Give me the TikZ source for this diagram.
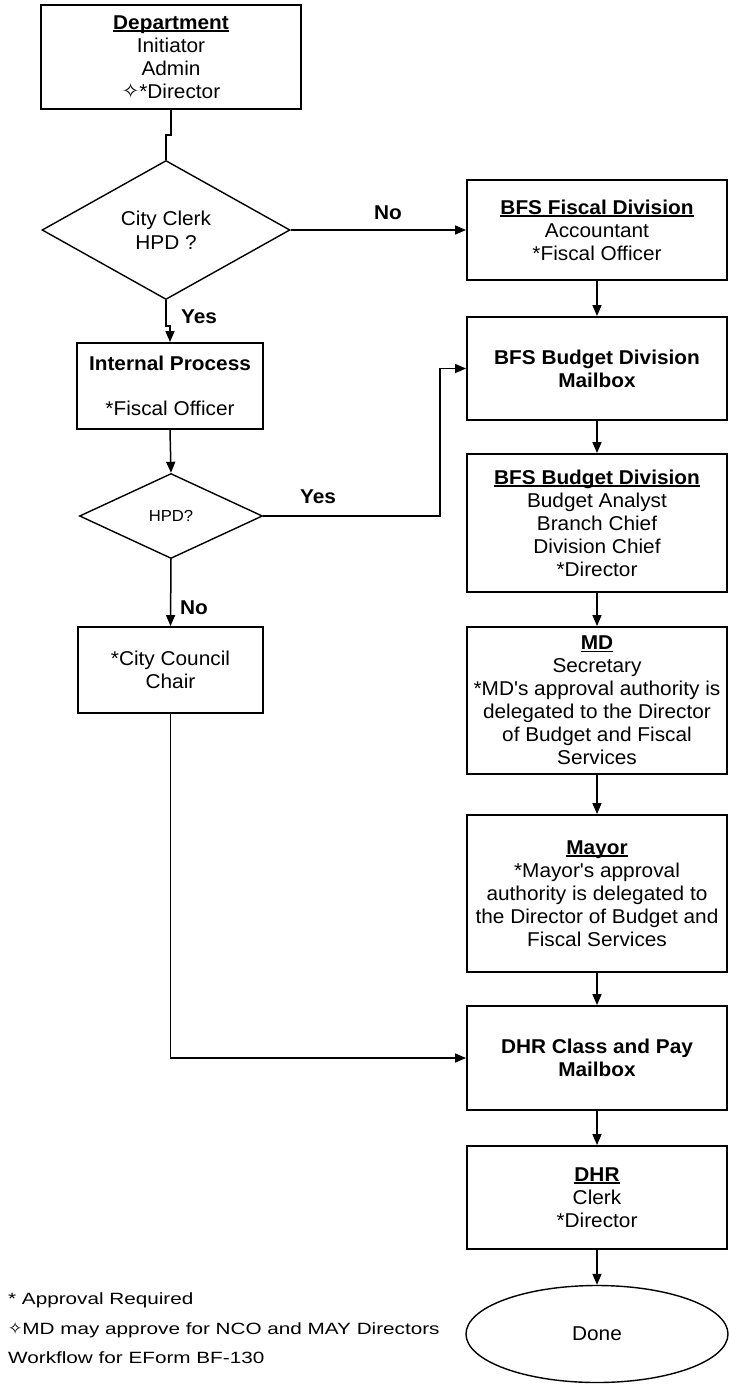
\documentclass[tikz,border=0pt]{standalone}
\usepackage{fontspec}
\setmainfont{Liberation Sans}[FakeStretch=1.04, Ligatures=TeXOff]
\newfontfamily\symfont{DejaVu Sans}
\newfontfamily\notefont{Liberation Sans}[FakeStretch=1.27, Ligatures=TeXOff]
\usetikzlibrary{shapes.geometric,arrows.meta}

% bold heading with a rule drawn just below the baseline
\newcommand\hdline[1]{{\setbox0\hbox{\bfseries #1}\rlap{\rule[-2.6pt]{\wd0}{1.6pt}}\box0}}
% outlined four-point star used as a footnote mark
\newcommand\starmark[1]{{\symfont\fontsize{#1}{#1}\selectfont\smash{\char"2727}}}

\tikzset{
  stepbox/.style={draw, line width=1.9pt, inner sep=0pt, align=center,
    font=\fontsize{20}{23}\selectfont},
  decision/.style={draw, diamond, line width=1.4pt, inner sep=0pt, align=center},
  arr/.style={line width=1.5pt, -{Triangle[length=11pt,width=9pt]}},
  link/.style={line width=1.5pt},
  lbl/.style={font=\fontsize{20}{23}\selectfont\bfseries},
  note/.style={anchor=base west, inner sep=0pt, font=\notefont\fontsize{16.3}{20}\selectfont},
}

\begin{document}
\begin{tikzpicture}[x=1pt,y=-1pt]
\useasboundingbox (0,0) rectangle (729,1384);

% left column
\node[stepbox, minimum width=260pt, minimum height=104pt] (dept) at (171,57)
  {\hdline{Department}\\Initiator\\Admin\\\starmark{21}*Director};
\node[decision, minimum width=248pt, minimum height=139pt,
  font=\fontsize{20}{24}\selectfont] (d1) at (166,230) {City Clerk\\HPD ?};
\node[stepbox, minimum width=186pt, minimum height=86pt] (internal) at (170,386)
  {\textbf{Internal Process}\\[22pt]*Fiscal Officer};
\node[decision, minimum width=183pt, minimum height=85pt,
  font=\fontsize{16}{19}\selectfont] (d2) at (171,516) {HPD?};
\node[stepbox, minimum width=185pt, minimum height=86pt] (council) at (170.5,670)
  {*City Council\\Chair};

% right column
\node[stepbox, minimum width=260pt, minimum height=100pt] (fiscal) at (597,230)
  {\hdline{BFS Fiscal Division}\\Accountant\\*Fiscal Officer};
\node[stepbox, minimum width=260pt, minimum height=103pt] (mailbox) at (597,368.5)
  {\textbf{BFS Budget Division}\\\textbf{Mailbox}};
\node[stepbox, minimum width=260pt, minimum height=138pt] (budget) at (597,523)
  {\hdline{BFS Budget Division}\\Budget Analyst\\Branch Chief\\Division Chief\\*Director};
\node[stepbox, minimum width=260pt, minimum height=147pt] (md) at (597,700.5)
  {\hdline{MD}\\Secretary\\*MD's approval authority is\\delegated to the Director\\of Budget and Fiscal\\Services};
\node[stepbox, minimum width=260pt, minimum height=157pt] (mayor) at (597,893.5)
  {\hdline{Mayor}\\*Mayor's approval\\authority is delegated to\\the Director of Budget and\\Fiscal Services};
\node[stepbox, minimum width=260pt, minimum height=104pt] (dhrmail) at (597,1058)
  {\textbf{DHR Class and Pay}\\\textbf{Mailbox}};
\node[stepbox, minimum width=260pt, minimum height=103pt] (dhr) at (597,1197.5)
  {\hdline{DHR}\\Clerk\\*Director};
\node[draw, ellipse, line width=1.4pt, minimum width=262pt, minimum height=97pt,
  font=\fontsize{20}{23}\selectfont] (done) at (597,1334) {Done};

% branch labels
\node[lbl] (lno1) at (388,213) {No};
\node[lbl] (lyes1) at (199,317) {Yes};
\node[lbl] (lyes2) at (318,497) {Yes};
\node[lbl] (lno2) at (194,608) {No};

% routing points
\coordinate (k0) at (171,135);
\coordinate (k1) at (166,326);
\coordinate (jA) at (440,516);

% connectors
\draw[link] (dept.south) -- (k0) -| (d1.north);
\draw[arr] (d1.east) -- (fiscal.west);
\draw[arr] (d1.south) -- (k1) -| (internal.north);
\draw[arr] (internal.south) -- (d2.north);
\draw[arr] (d2.east) -- (jA) |- (mailbox.west);
\draw[arr] (d2.south) -- (council.north);
\draw[arr] (council.south) |- (dhrmail.west);
\draw[arr] (fiscal.south) -- (mailbox.north);
\draw[arr] (mailbox.south) -- (budget.north);
\draw[arr] (budget.south) -- (md.north);
\draw[arr] (md.south) -- (mayor.north);
\draw[arr] (mayor.south) -- (dhrmail.north);
\draw[arr] (dhrmail.south) -- (dhr.north);
\draw[arr] (dhr.south) -- (done.north);

% footnotes
\node[note] (n1) at (8,1304) {* Approval Required};
\node[note] (n2) at (8,1334) {\starmark{17}MD may approve for NCO and MAY Directors};
\node[note] (n3) at (8,1363) {Workflow for EForm BF-130};
\end{tikzpicture}
\end{document}
